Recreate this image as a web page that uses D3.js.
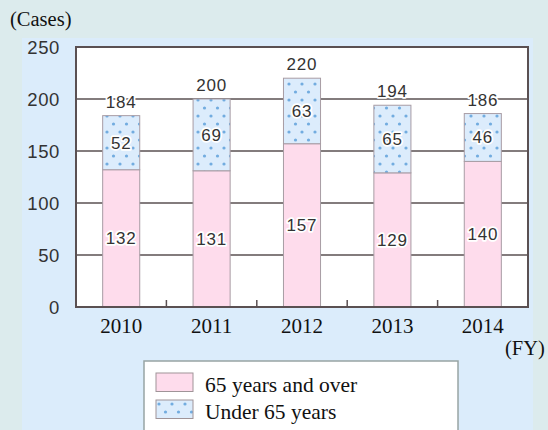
<!DOCTYPE html>
<html><head><meta charset="utf-8">
<script src="https://cdn.jsdelivr.net/npm/d3@7"></script>
<style>
body{margin:0;background:#dcebed;}svg{display:block;}
.sans{font-family:"Liberation Sans", Arimo, Arial, Helvetica, sans-serif;}
.serif{font-family:"Liberation Serif", Tinos, "Times New Roman", Times, serif;}
</style>
</head><body>
<svg id="chart" width="548" height="430"></svg>
<script>
const years = ["2010", "2011", "2012", "2013", "2014"];
const over65 = [132, 131, 157, 129, 140];
const under65 = [52, 69, 63, 65, 46];
const totals = [184, 200, 220, 194, 186];
const yTicks = [0, 50, 100, 150, 200, 250];
const seriesNames = ["65 years and over", "Under 65 years"];

const svg = d3.select("#chart");
const frameColor = "#5a5052";

const defs = svg.append("defs");
const pat = defs.append("pattern").attr("id", "dots").attr("patternUnits", "userSpaceOnUse")
  .attr("width", 13).attr("height", 16);
pat.append("rect").attr("width", 13).attr("height", 16).attr("fill", "#dcecfc");
pat.append("circle").attr("cx", 3).attr("cy", 4).attr("r", 1.6).attr("fill", "#72ace0");
pat.append("circle").attr("cx", 9.5).attr("cy", 12).attr("r", 1.6).attr("fill", "#72ace0");

// panel
svg.append("rect").attr("x", 22).attr("y", 38).attr("width", 511).attr("height", 400).attr("fill", "#dbecfb");

const m = {left: 76, right: 528, top: 47, bottom: 307};
const x = d3.scaleBand().domain(years).range([m.left, m.right]).paddingInner(0.59).paddingOuter(0.295);
const xb = d3.scaleBand().domain(years).range([m.left, m.right]);
const y = d3.scaleLinear().domain([0, 250]).range([m.bottom, m.top]);

svg.append("rect").attr("x", m.left).attr("y", m.top).attr("width", m.right - m.left).attr("height", m.bottom - m.top).attr("fill", "#fff");

// gridlines
svg.append("g").selectAll("line").data(yTicks.filter(t => t > 0 && t < 250)).join("line")
  .attr("x1", m.left).attr("x2", m.right).attr("y1", d => y(d)).attr("y2", d => y(d))
  .attr("stroke", frameColor).attr("stroke-width", 1.5);

// y axis labels
const yAxis = d3.axisLeft(y).tickValues(yTicks).tickSize(0).tickPadding(16);
const ya = svg.append("g").attr("transform", `translate(${m.left},0)`).call(yAxis);
ya.select(".domain").remove();
ya.attr("font-family", null).attr("font-size", null);
ya.selectAll("text").attr("class", "sans").style("font-size", "18.5px").style("letter-spacing", "0.6px")
  .attr("dy", "0.36em").attr("fill", "#333");

// bars
const data = years.map((yr, i) => ({yr, a: over65[i], b: under65[i], t: totals[i]}));
const g = svg.append("g");
g.selectAll(".pink").data(data).join("rect")
  .attr("x", d => x(d.yr)).attr("width", x.bandwidth())
  .attr("y", d => y(d.a)).attr("height", d => y(0) - y(d.a))
  .attr("fill", "#fedcec").attr("stroke", "#a89ca4").attr("stroke-width", 1);
g.selectAll(".blue").data(data).join("rect")
  .attr("x", d => x(d.yr)).attr("width", x.bandwidth())
  .attr("y", d => y(d.a + d.b)).attr("height", d => y(d.a) - y(d.a + d.b))
  .attr("fill", "url(#dots)").attr("stroke", "#a89ca4").attr("stroke-width", 1);

// frame
svg.append("rect").attr("x", m.left).attr("y", m.top).attr("width", m.right - m.left).attr("height", m.bottom - m.top)
  .attr("fill", "none").attr("stroke", frameColor).attr("stroke-width", 2);

// bottom ticks between categories
svg.append("g").selectAll("line").data(years.slice(1)).join("line")
  .attr("x1", d => xb(d)).attr("x2", d => xb(d)).attr("y1", m.bottom).attr("y2", m.bottom - 7)
  .attr("stroke", frameColor).attr("stroke-width", 1.5);

// labels with halo
function label(sel) {
  return sel.attr("class", "sans").style("font-size", "17px").style("letter-spacing", "0.8px")
    .attr("text-anchor", "middle")
    .attr("fill", "#333").attr("stroke", "#fff").attr("stroke-width", 3.5).attr("paint-order", "stroke")
    .attr("stroke-linejoin", "round");
}
label(g.selectAll(".la").data(data).join("text")
  .attr("x", d => x(d.yr) + x.bandwidth() / 2).attr("y", d => (y(0) + y(d.a)) / 2 + 6)
  .text(d => d.a));
label(g.selectAll(".lb").data(data).join("text")
  .attr("x", d => x(d.yr) + x.bandwidth() / 2).attr("y", d => (y(d.a) + y(d.a + d.b)) / 2 + 6)
  .text(d => d.b));
label(g.selectAll(".lt").data(data).join("text")
  .attr("x", d => x(d.yr) + x.bandwidth() / 2).attr("y", d => y(d.t) - 8)
  .text(d => d.t));

// x labels
svg.append("g").selectAll("text").data(years).join("text")
  .attr("x", d => x(d) + x.bandwidth() / 2).attr("y", 333)
  .attr("text-anchor", "middle").attr("class", "serif").style("font-size", "21px").attr("fill", "#111")
  .text(d => d);

svg.append("text").attr("x", 10).attr("y", 26).attr("class", "serif").style("font-size", "20.5px").attr("fill", "#111").text("(Cases)");
svg.append("text").attr("x", 505).attr("y", 355).attr("class", "serif").style("font-size", "20.5px").attr("fill", "#111").text("(FY)");

// legend
svg.append("rect").attr("x", 144).attr("y", 361).attr("width", 314).attr("height", 80)
  .attr("fill", "#fff").attr("stroke", "#98a4a4").attr("stroke-width", 1.5);
const fills = ["#fedcec", "url(#dots)"];
const lg = svg.append("g").selectAll("g").data(seriesNames).join("g")
  .attr("transform", (d, i) => `translate(156,${373 + i * 27})`);
lg.append("rect").attr("width", 37).attr("height", 18.5).attr("fill", (d, i) => fills[i])
  .attr("stroke", "#a09498").attr("stroke-width", 1);
lg.append("text").attr("x", 49).attr("y", 18.5).attr("class", "serif").style("font-size", "21.5px").attr("fill", "#111").text(d => d);
</script>
</body></html>
